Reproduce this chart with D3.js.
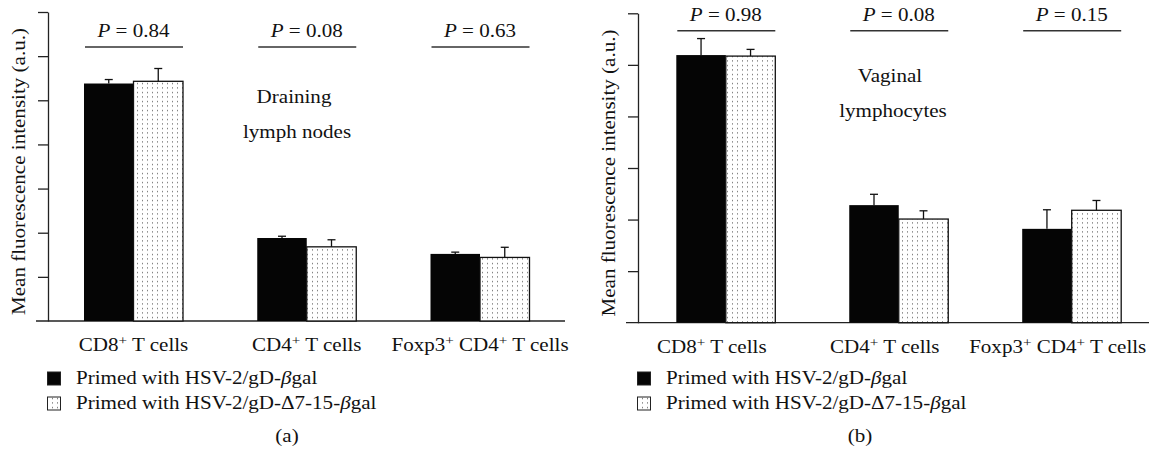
<!DOCTYPE html>
<html>
<head>
<meta charset="utf-8">
<script src="https://cdn.jsdelivr.net/npm/d3@7"></script>
<style>
body { margin: 0; background: #fff; }
svg text { font-family: "Liberation Serif", "Times New Roman", serif; font-size: 18px; fill: #111; }
</style>
</head>
<body>
<div id="chart"></div>
<script>
// categories and their printed labels ([text, style] parts)
var categories = ["CD8", "CD4", "Foxp3 CD4"];
var categoryLabels = [
  [["CD8"], ["+", "sup"], [" T cells"]],
  [["CD4"], ["+", "sup"], [" T cells"]],
  [["Foxp3"], ["+", "sup"], [" CD4"], ["+", "sup"], [" T cells"]]
];
var seriesLabels = [
  [["Primed with HSV-2/gD-"], ["\u03b2", "it"], ["gal"]],
  [["Primed with HSV-2/gD-\u03947-15-"], ["\u03b2", "it"], ["gal"]]
];
var yTitle = "Mean fluorescence intensity (a.u.)";

// (a) draining lymph nodes
var lnHsv = [5.38, 1.88, 1.52];
var lnHsvErr = [0.09, 0.04, 0.04];
var lnDelta = [5.43, 1.68, 1.44];
var lnDeltaErr = [0.29, 0.16, 0.23];
var lnP = ["0.84", "0.08", "0.63"];
var lnTitle = ["Draining", "lymph nodes"];

// (b) vaginal lymphocytes
var vagHsv = [5.19, 2.28, 1.82];
var vagHsvErr = [0.32, 0.21, 0.37];
var vagDelta = [5.17, 2.01, 2.18];
var vagDeltaErr = [0.13, 0.16, 0.19];
var vagP = ["0.98", "0.08", "0.15"];
var vagTitle = ["Vaginal", "lymphocytes"];

var stretch = 1.17;   // the printed face is wider than Liberation Serif
var barW = 49.5;

var svg = d3.select("#chart").append("svg")
    .attr("width", 1149)
    .attr("height", 458);

var pat = svg.append("defs").append("pattern")
    .attr("id", "dots")
    .attr("patternUnits", "userSpaceOnUse")
    .attr("width", 5)
    .attr("height", 4.5);
pat.append("rect").attr("width", 5).attr("height", 4.5).attr("fill", "#fff");
pat.append("rect").attr("x", 2).attr("y", 2).attr("width", 1).attr("height", 1).attr("fill", "#444");

function addText(parent, x, y, parts, rot, anchor) {
  var g = parent.append("g")
      .attr("transform", "translate(" + x + "," + y + ") rotate(" + (rot || 0) + ") scale(" + stretch + ",1)");
  var t = g.append("text").attr("text-anchor", anchor || "middle");
  var raised = false;
  parts.forEach(function(p) {
    var s = t.append("tspan").text(p[0]);
    if (p[1] === "it") s.style("font-style", "italic");
    if (p[1] === "sup") {
      s.attr("dy", -6).style("font-size", "13px");
      raised = true;
    } else if (raised) {
      s.attr("dy", 6);
      raised = false;
    }
  });
  return t;
}

function drawPanel(p) {
  var g = svg.append("g");

  var y = d3.scaleLinear().domain([0, p.yMax]).range([p.base, p.top]);
  var x = d3.scalePoint().domain(categories).range([p.first, p.last]);

  var data = categories.map(function(c, i) {
    return {cat: c, a: p.hsv[i], aErr: p.hsvErr[i], b: p.delta[i], bErr: p.deltaErr[i], pv: p.pv[i], label: categoryLabels[i]};
  });

  // y axis
  g.append("g")
      .attr("transform", "translate(" + p.axisX + ",0)")
      .call(d3.axisLeft(y).tickValues(d3.range(1, p.yMax + 1)).tickSize(10).tickSizeOuter(0).tickFormat(""))
      .call(function(a) {
        a.selectAll("path, line").attr("stroke", "#222").attr("stroke-width", 1.3);
      });

  // x baseline
  g.append("line")
      .attr("x1", p.axisX - 12).attr("x2", p.xEnd)
      .attr("y1", y(0)).attr("y2", y(0))
      .attr("stroke", "#222").attr("stroke-width", 1.3);

  addText(g, p.axisX - 23, (p.top + p.base) / 2 + 5, [[yTitle]], -90);

  // bars
  g.selectAll(".bar-a").data(data).enter().append("rect")
      .attr("x", function(d) { return x(d.cat) - barW; })
      .attr("y", function(d) { return y(d.a); })
      .attr("width", barW)
      .attr("height", function(d) { return y(0) - y(d.a); })
      .attr("fill", "#050505");

  g.selectAll(".bar-b").data(data).enter().append("rect")
      .attr("x", function(d) { return x(d.cat); })
      .attr("y", function(d) { return y(d.b); })
      .attr("width", barW)
      .attr("height", function(d) { return y(0) - y(d.b); })
      .attr("fill", "url(#dots)")
      .attr("stroke", "#111")
      .attr("stroke-width", 1.3);

  // error bars (upper only)
  var errs = [];
  data.forEach(function(d) {
    errs.push({cx: x(d.cat) - barW / 2, v: d.a, e: d.aErr});
    errs.push({cx: x(d.cat) + barW / 2, v: d.b, e: d.bErr});
  });
  var eg = g.selectAll(".err").data(errs).enter().append("g")
      .attr("stroke", "#111").attr("stroke-width", 1.3);
  eg.append("line")
      .attr("x1", function(d) { return d.cx; }).attr("x2", function(d) { return d.cx; })
      .attr("y1", function(d) { return y(d.v); }).attr("y2", function(d) { return y(d.v + d.e); });
  eg.append("line")
      .attr("x1", function(d) { return d.cx - 4; }).attr("x2", function(d) { return d.cx + 4; })
      .attr("y1", function(d) { return y(d.v + d.e); }).attr("y2", function(d) { return y(d.v + d.e); });

  // P values
  data.forEach(function(d) {
    g.append("line")
        .attr("x1", x(d.cat) - barW + 1).attr("x2", x(d.cat) + barW)
        .attr("y1", p.pLineY).attr("y2", p.pLineY)
        .attr("stroke", "#333").attr("stroke-width", 1.5);
    addText(g, x(d.cat), p.pLineY - 10, [["P", "it"], [" = " + d.pv]]);
    addText(g, x(d.cat) + p.labelShift, y(0) + 30, d.label);
  });

  // panel title
  addText(g, p.titleX, p.titleY, [[p.title[0]]]);
  addText(g, p.titleX + 3, p.titleY + 35, [[p.title[1]]]);

  // legend
  seriesLabels.forEach(function(s, i) {
    var ly = 384 + i * 25;
    g.append("rect")
        .attr("x", p.axisX - 0.5).attr("y", ly - 12)
        .attr("width", 13).attr("height", 13)
        .attr("fill", i === 0 ? "#050505" : "url(#dots)")
        .attr("stroke", "#222").attr("stroke-width", 1);
    addText(g, p.axisX + 28, ly, s, 0, "start");
  });

  addText(g, p.capX, 442, [[p.caption]]);
}

drawPanel({
  axisX: 48, top: 12, base: 321, yMax: 7, xEnd: 565,
  first: 133.5, last: 480, pLineY: 47, labelShift: 0,
  hsv: lnHsv, hsvErr: lnHsvErr, delta: lnDelta, deltaErr: lnDeltaErr, pv: lnP,
  title: lnTitle, titleX: 294, titleY: 103, capX: 287, caption: "(a)"
});

drawPanel({
  axisX: 638, top: 13.3, base: 322.7, yMax: 6, xEnd: 1149,
  first: 725.8, last: 1071.7, pLineY: 30.7, labelShift: -14,
  hsv: vagHsv, hsvErr: vagHsvErr, delta: vagDelta, deltaErr: vagDeltaErr, pv: vagP,
  title: vagTitle, titleX: 890, titleY: 82, capX: 860, caption: "(b)"
});
</script>
</body>
</html>
